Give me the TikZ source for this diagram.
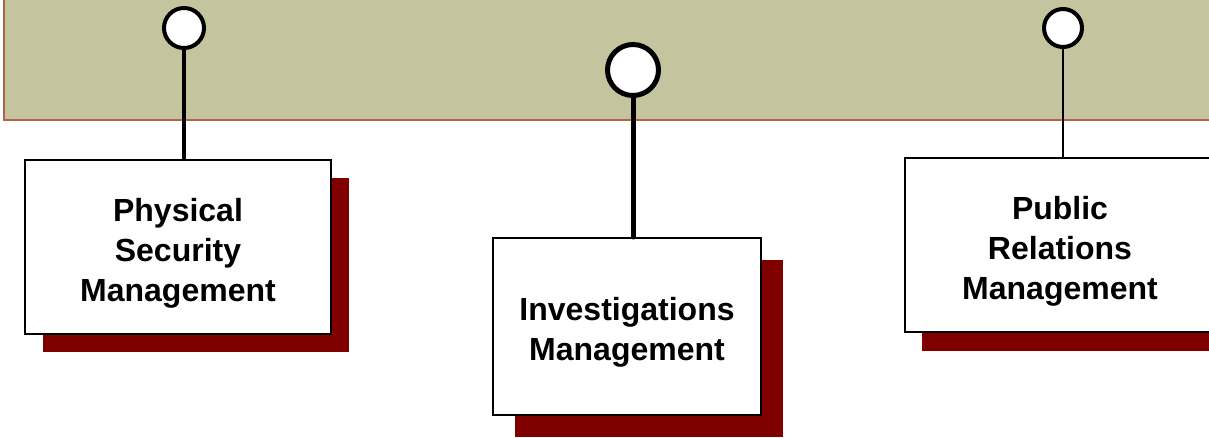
\documentclass[tikz,border=0pt]{standalone}
\usepackage{fontspec}
\setmainfont{Liberation Sans}
\usetikzlibrary{shadows}

\definecolor{bannerolive}{HTML}{C4C59F}
\definecolor{bannerrim}{HTML}{B3624E}
\definecolor{shadowred}{HTML}{800000}

\begin{document}
\begin{tikzpicture}[x=1pt,y=-1pt,
  unitbox/.style={draw=black,line width=2pt,fill=white,inner sep=0pt},
  unittext/.style={align=center,inner sep=0pt,yshift=-6pt,font=\fontsize{32}{40}\selectfont\bfseries},
  pinhead/.style={circle,draw=black,fill=white,inner sep=0pt},
  stem/.style={draw=black,line cap=round}]
\useasboundingbox (0,0) rectangle (1209,437);
\clip (0,0) rectangle (1209,437);
% banner
\draw[fill=bannerolive,draw=bannerrim,line width=1.5pt] (4,-10) rectangle (1230,120);
% boxes
\node[unitbox,minimum width=306pt,minimum height=174pt,copy shadow={shadow xshift=18pt,shadow yshift=-18pt,fill=shadowred,draw=none},label={[unittext]center:Physical\\Security\\Management}] (unit0) at (178,247) {};
\node[unitbox,minimum width=268pt,minimum height=177pt,copy shadow={shadow xshift=22pt,shadow yshift=-22pt,fill=shadowred,draw=none},label={[unittext]center:Investigations\\Management}] (unit1) at (627,326.5) {};
\node[unitbox,minimum width=310pt,minimum height=174pt,copy shadow={shadow xshift=17pt,shadow yshift=-19pt,fill=shadowred,draw=none},label={[unittext]center:Public\\Relations\\Management}] (unit2) at (1060,245) {};
% pins
\node[pinhead,line width=4pt,minimum size=40pt] (pin0) at (184,28) {};
\node[pinhead,line width=5pt,minimum size=51pt] (pin1) at (633,70) {};
\node[pinhead,line width=4pt,minimum size=38pt] (pin2) at (1063,28) {};
\draw[stem,line width=4pt] (pin0.south)--(pin0.south |- unit0.north);
\draw[stem,line width=5pt] (pin1.south)--(pin1.south |- unit1.north);
\draw[stem,line width=2.5pt] (pin2.south)--(pin2.south |- unit2.north);
\end{tikzpicture}
\end{document}
